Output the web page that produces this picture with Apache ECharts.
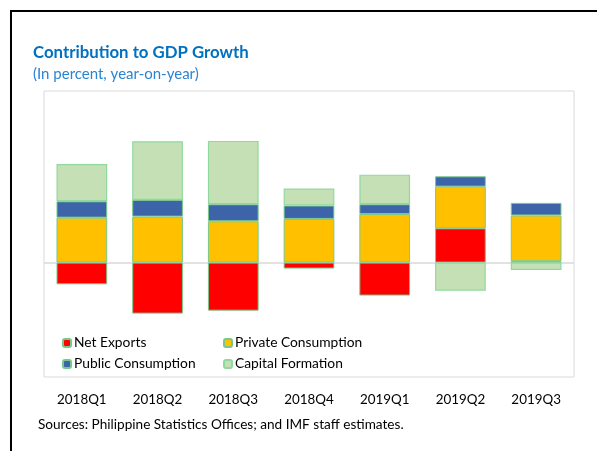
<!DOCTYPE html>
<html>
<head>
<meta charset="utf-8">
<script src="https://cdn.jsdelivr.net/npm/echarts@6/dist/echarts.min.js"></script>
<style>
  html, body { margin: 0; padding: 0; background: #ffffff; }
  #chart { width: 597px; height: 451px; }
</style>
</head>
<body>
<div id="chart"></div>
<script>
// Quarterly contributions to real GDP growth, percentage points
const quarters = ['2018Q1', '2018Q2', '2018Q3', '2018Q4', '2019Q1', '2019Q2', '2019Q3'];
const netExports = [-1.9, -4.46, -4.2, -0.52, -2.88, 3.0, 0.12];
const privateConsumption = [3.93, 4.02, 3.61, 3.82, 4.25, 3.64, 4.0];
const publicConsumption = [1.43, 1.46, 1.49, 1.17, 0.85, 0.9, 1.1];
const capitalFormation = [3.26, 5.13, 5.54, 1.49, 2.59, -2.45, -0.64];

const FONT = 'Lato';
const edge = '#76c98a';

const chart = echarts.init(document.getElementById('chart'), null, { renderer: 'canvas' });

function barSeries(name, data, color, extra) {
  return Object.assign({
    name: name,
    type: 'bar',
    stack: 'gdp',
    data: data,
    barWidth: '67%',
    itemStyle: { color: color, borderColor: edge, borderWidth: 1 },
    emphasis: { disabled: true }
  }, extra || {});
}

chart.setOption({
  animation: false,
  backgroundColor: '#ffffff',
  title: {
    text: 'Contribution to GDP Growth',
    subtext: '(In percent, year-on-year)',
    left: 28,
    top: 39,
    itemGap: 6,
    textStyle: { fontFamily: FONT, fontSize: 16.8, fontWeight: 'bold', color: '#0070C0' },
    subtextStyle: { fontFamily: FONT, fontSize: 15, color: '#2b84d2' }
  },
  graphic: [
    {
      type: 'rect',
      shape: { x: 11, y: 11, width: 620, height: 480 },
      style: { fill: 'none', stroke: '#000000', lineWidth: 2 },
      silent: true
    },
    {
      type: 'text',
      left: 38,
      top: 418,
      style: {
        text: 'Sources: Philippine Statistics Offices; and IMF staff estimates.',
        fontFamily: FONT, fontSize: 13.6, fill: '#000000'
      }
    }
  ],
  legend: [
    {
      data: ['Net Exports', 'Public Consumption'],
      orient: 'vertical',
      left: 57,
      top: 331,
      itemWidth: 8,
      itemHeight: 8,
      itemGap: 7,
      selectedMode: false,
      textStyle: { fontFamily: FONT, fontSize: 13.8, color: '#000000', padding: [0, 0, 0, -2] }
    },
    {
      data: ['Private Consumption', 'Capital Formation'],
      orient: 'vertical',
      left: 218,
      top: 331,
      itemWidth: 8,
      itemHeight: 8,
      itemGap: 7,
      selectedMode: false,
      textStyle: { fontFamily: FONT, fontSize: 13.8, color: '#000000', padding: [0, 0, 0, -2] }
    }
  ],
  grid: {
    left: 44,
    right: 23,
    top: 91,
    bottom: 74,
    show: true,
    borderColor: '#d9d9d9',
    borderWidth: 1,
    backgroundColor: 'transparent'
  },
  xAxis: {
    type: 'category',
    data: quarters,
    axisLine: { show: false },
    axisTick: { show: false },
    axisLabel: { fontFamily: FONT, fontSize: 13.4, color: '#000000', margin: 16 }
  },
  yAxis: {
    type: 'value',
    min: -10,
    max: 15,
    interval: 5,
    axisLine: { show: false },
    axisTick: { show: false },
    axisLabel: { show: false },
    splitLine: { show: false }
  },
  series: [
    barSeries('Net Exports', netExports, '#ff0000', {
      markLine: {
        silent: true,
        symbol: 'none',
        label: { show: false },
        lineStyle: { color: '#d9d9d9', width: 1.5, type: 'solid' },
        data: [{ yAxis: 0 }],
        z: 1
      }
    }),
    barSeries('Private Consumption', privateConsumption, '#ffc000'),
    barSeries('Public Consumption', publicConsumption, '#3d63a9'),
    barSeries('Capital Formation', capitalFormation, '#c5e0b4', {
      itemStyle: { color: '#c5e0b4', borderColor: '#8fd9a0', borderWidth: 1.2 }
    })
  ]
});
</script>
</body>
</html>
